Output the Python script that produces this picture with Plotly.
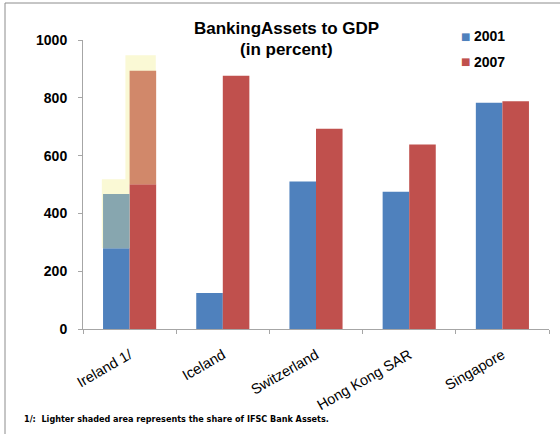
import plotly.graph_objects as go

categories = ["Ireland 1/", "Iceland", "Switzerland", "Hong Kong SAR", "Singapore"]
v2001 = [279, 125, 510, 475, 783]
v2007 = [501, 876, 693, 638, 788]

# Ireland: IFSC bank assets (lighter shaded area)
ire_ifsc_2001_top = 467      # blended segment top (2001)
ire_ifsc_2007_top = 894      # blended segment top (2007)
ire_shade_2001_top = 518     # light yellow box top (2001)
ire_shade_2007_top = 947     # light yellow box top (2007)

series_names = ["2001", "2007"]

BLUE = "#4F81BD"
RED = "#C0504D"
TEAL = "#87A6AF"
ORANGE = "#D1886A"
YELLOW = "#FAF9D5"

W = 0.285
fig = go.Figure()

# light yellow boxes (behind)
fig.add_trace(go.Bar(x=[categories[0]], y=[ire_shade_2001_top - v2001[0]], base=[v2001[0]],
                     offset=-0.298, width=0.296, marker=dict(color=YELLOW, line=dict(width=0)),
                     showlegend=False, hoverinfo="skip"))
fig.add_trace(go.Bar(x=[categories[0]], y=[ire_shade_2007_top - v2007[0]], base=[v2007[0]],
                     offset=-0.045, width=0.326, marker=dict(color=YELLOW, line=dict(width=0)),
                     showlegend=False, hoverinfo="skip"))

# main bars
fig.add_trace(go.Bar(x=categories, y=v2001, offset=-W, width=W, name=series_names[0],
                     marker=dict(color=BLUE, line=dict(width=0)), showlegend=False))
fig.add_trace(go.Bar(x=categories, y=v2007, offset=0, width=W, name=series_names[1],
                     marker=dict(color=RED, line=dict(width=0)), showlegend=False))

# blended IFSC segments for Ireland
fig.add_trace(go.Bar(x=[categories[0]], y=[ire_ifsc_2001_top - v2001[0]], base=[v2001[0]],
                     offset=-W, width=W, marker=dict(color=TEAL, line=dict(width=0)),
                     showlegend=False))
fig.add_trace(go.Bar(x=[categories[0]], y=[ire_ifsc_2007_top - v2007[0]], base=[v2007[0]],
                     offset=0, width=W, marker=dict(color=ORANGE, line=dict(width=0)),
                     showlegend=False))

def px(x):
    return (x - 83) / 466

def py(y):
    return (329 - y) / 289

annotations = [
    dict(text="<b>BankingAssets to GDP</b>", x=px(286), y=py(28), xref="paper", yref="paper",
         xanchor="center", yanchor="middle", showarrow=False,
         font=dict(size=17, family="Liberation Sans, Arial")),
    dict(text="<b>(in percent)</b>", x=px(286), y=py(50), xref="paper", yref="paper",
         xanchor="center", yanchor="middle", showarrow=False,
         font=dict(size=17, family="Liberation Sans, Arial")),
    dict(text="<b>1/:  Lighter shaded area represents the share of IFSC Bank Assets.</b>",
         x=px(22), y=py(419), xref="paper", yref="paper",
         xanchor="left", yanchor="middle", showarrow=False,
         font=dict(size=9, family="DejaVu Sans Condensed, Liberation Sans Narrow, Arial Narrow")),
]
# legend drawn as annotations
for name, col, ly in [(series_names[0], BLUE, 36), (series_names[1], RED, 62)]:
    annotations.append(dict(text="■", x=px(465), y=py(ly), xref="paper", yref="paper",
                            xanchor="center", yanchor="middle", showarrow=False,
                            font=dict(size=10, color=col, family="DejaVu Sans")))
    annotations.append(dict(text="<b>" + name + "</b>", x=px(472), y=py(ly), xref="paper", yref="paper",
                            xanchor="left", yanchor="middle", showarrow=False,
                            font=dict(size=14, family="Liberation Sans, Arial")))

fig.update_layout(
    width=560, height=434,
    barmode="overlay",
    plot_bgcolor="white", paper_bgcolor="white",
    margin=dict(l=83, r=11, t=40, b=105, autoexpand=False),
    font=dict(family="Liberation Sans, Arial, sans-serif", color="black"),
    showlegend=False,
    xaxis=dict(type="category", range=[-0.5, 4.5], showline=True, linecolor="#A6A6A6",
               linewidth=1, ticks="outside", tickson="boundaries", ticklen=4, tickcolor="#A6A6A6",
               tickangle=-30, tickfont=dict(size=14.5, family="Liberation Sans, Arial"),
               ticklabelstandoff=11,
               showgrid=False, zeroline=False, automargin=False),
    yaxis=dict(range=[0, 1000], dtick=200, tick0=0, showline=True, linecolor="#A6A6A6",
               linewidth=1, ticks="outside", ticklen=4, tickcolor="#A6A6A6",
               tickfont=dict(size=14, family="Liberation Sans, Arial", weight="bold"),
               ticklabelstandoff=8,
               showgrid=False, zeroline=False, automargin=False),
    annotations=annotations,
    shapes=[
        dict(type="line", xref="paper", yref="paper", x0=px(5), x1=px(5),
             y0=py(3), y1=py(440), line=dict(color="#8C8C8C", width=1)),
        dict(type="line", xref="paper", yref="paper", x0=px(5), x1=px(565),
             y0=py(3), y1=py(3), line=dict(color="#8C8C8C", width=1)),
    ],
)

fig.write_html("out.html", config={"displayModeBar": False},
               post_script="document.body.style.margin='0px';")
